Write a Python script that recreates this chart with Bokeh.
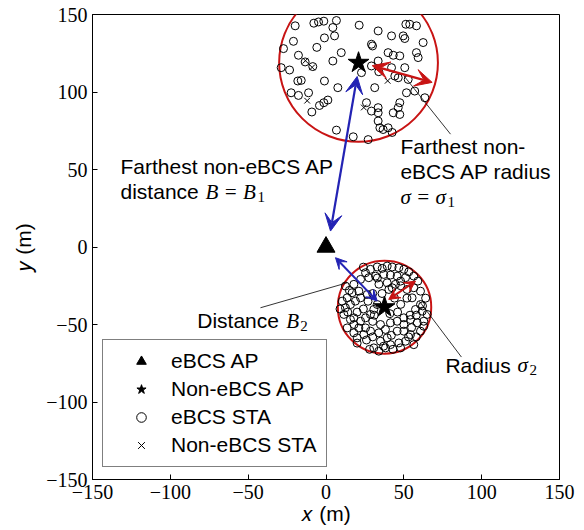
from bokeh.plotting import figure
from bokeh.models import (Range1d, Legend, LegendItem, Arrow, VeeHead, CustomJSTickFormatter)
from bokeh.core.properties import value
from bokeh.embed import file_html
from bokeh.resources import INLINE

# ---------------- data ----------------
TICKS = [-150, -100, -50, 0, 50, 100, 150]

ebcs_ap_x = [0.0]
ebcs_ap_y = [0.0]

non_ap_x = [20.9, 37.6]
non_ap_y = [118.9, -38.8]
non_ap_radius = [51.0, 30.0]

sta_c1_x = [-19.8, -7.8, -4.8, -1.4, 6.7, 4.4, 5.5, -1.0, -20.9, -27.3, -5.9, 9.8, -17.7, -13.4,
            4.4, -28.8, -23.4, -8.5, -18.1, -15.9, -1.0, 7.6, -22.4, -17.7, -11.2, -9.1, -4.2,
            -1.4, 1.2, 6.7, 17.5,
            21.3, 33.5, 42.1, 49.6, 50.6, 51.3, 53.8, 58.1, 62.4, 29.2, 29.9, 39.9, 43.2, 47.4,
            58.1, 59.2, 33.5, 22.8, 29.2, 42.1, 44.2, 50.6, 46.4, 52.8, 57.0, 51.7, 63.5, 31.3,
            26.0, 29.2, 33.5, 33.5, 47.4, 46.4, 43.2, 47.4, 33.5, 34.6, 36.7, 39.9, 27.1, 33.9,
            42.5]
sta_c1_y = [142.7, 144.4, 145.2, 145.7, 146.1, 141.6, 136.2, 134.9, 132.7, 128.0, 128.8, 125.4,
            123.7, 119.4, 120.0, 115.7, 114.2, 116.4, 107.1, 107.5, 107.1, 102.8, 99.5, 97.8,
            99.5, 87.1, 91.3, 93.1, 94.8, 75.4, 71.1,
            143.1, 139.4, 136.2, 136.2, 134.5, 143.7, 143.7, 142.7, 131.9, 130.8, 129.7, 125.4,
            123.7, 123.3, 125.4, 122.2, 120.0, 112.5, 116.8, 115.7, 110.3, 115.7, 109.2, 108.1,
            100.6, 99.5, 96.3, 102.8, 93.1, 87.7, 89.9, 86.6, 93.1, 89.9, 86.6, 85.5, 81.3,
            76.9, 75.8, 76.9, 69.3, 113.1, 73.9]

sta_c2_x = [25.4, 28.6, 32.9, 36.1, 39.3, 42.5, 46.8, 50.0, 53.2, 56.4, 22.2, 27.5, 31.8, 37.1,
            41.4, 45.7, 51.1, 47.9, 12.5, 17.9, 21.1, 16.8, 13.6, 10.4, 12.5, 15.7, 18.9, 22.2,
            26.5, 39.3, 42.5, 40.4, 44.6, 52.1, 56.4, 60.7, 60.7, 57.5, 61.8, 65.0, 55.3, 32.9,
            30.7, 28.6, 25.4, 22.2, 17.9, 15.7, 11.5, 21.1, 25.4, 28.6, 24.3, 33.9, 38.2, 41.4,
            45.7, 50.0, 54.3, 58.6, 62.8, 60.7, 54.3, 50.0, 45.7, 39.3, 35.0, 30.7, 33.9, 38.2,
            41.4, 46.8, 51.1, 47.9, 56.4, 62.8, 17.9, 13.6, 20.0,
            24.0, 20.0, 27.0, 30.0, 34.0, 36.0, 44.0, 48.0, 52.0, 46.0, 50.0, 55.0, 42.0, 35.0,
            30.0, 26.0, 30.0, 37.0, 43.0, 53.0, 58.0, 62.0, 64.0, 59.0, 15.0, 18.0, 14.0, 9.0,
            24.0, 33.0, 48.0, 54.0, 58.0, 41.0, 31.0, 28.0, 20.0]
sta_c2_y = [-16.6, -14.4, -12.9, -13.8, -12.3, -12.9, -13.4, -14.4, -16.0, -18.8, -20.9, -19.8,
            -18.8, -17.7, -18.1, -18.8, -19.8, -22.0, -25.2, -24.1, -28.5, -29.5, -32.8, -34.9,
            -39.2, -37.1, -34.9, -32.8, -30.6, -23.1, -26.3, -27.4, -24.1, -27.4, -26.3, -28.5,
            -37.1, -40.3, -41.4, -43.5, -32.8, -37.1, -40.3, -43.5, -45.7, -47.9, -45.7, -46.8,
            -43.5, -52.2, -52.2, -54.3, -56.5, -55.4, -53.2, -48.9, -47.9, -45.7, -46.8, -48.9,
            -47.9, -54.3, -56.5, -54.3, -54.3, -58.6, -60.8, -65.1, -67.2, -65.1, -63.0, -61.9,
            -60.8, -65.1, -63.0, -51.1, -55.4, -52.2, -58.6,
            -40.0, -42.0, -35.0, -30.0, -24.0, -30.0, -33.0, -37.0, -33.0, -42.0, -50.0, -52.0,
            -57.0, -50.0, -48.0, -60.0, -58.0, -64.0, -66.0, -58.0, -58.0, -38.0, -33.0, -22.0,
            -28.0, -50.0, -42.0, -40.0, -13.0, -20.0, -25.0, -44.0, -44.0, -43.0, -44.0, -66.0,
            -62.0]

non_sta_x = [-13.2, -8.9, -12.1, 24.3, 39.6]
non_sta_y = [120.2, 115.9, 94.4, 90.0, 107.2]

# ---------------- figure ----------------
p = figure(width=576, height=527, x_range=Range1d(-150, 150), y_range=Range1d(-150, 150),
           output_backend="svg", toolbar_location=None,
           min_border_left=92, min_border_right=17, min_border_top=14, min_border_bottom=40)
p.grid.visible = False
p.outline_line_color = "black"
p.outline_line_width = 1
p.background_fill_color = "white"

fmt = CustomJSTickFormatter(code="return tick < 0 ? '\\u2212' + Math.abs(tick) : String(tick);")
for ax in (p.xaxis[0], p.yaxis[0]):
    ax.ticker = TICKS
    ax.formatter = fmt
    ax.major_tick_in = 5
    ax.major_tick_out = 0
    ax.minor_tick_in = 0
    ax.minor_tick_out = 0
    ax.axis_line_color = "black"
    ax.major_tick_line_color = "black"
    ax.major_label_text_font = "Liberation Serif"
    ax.major_label_text_font_size = "20px"
    ax.major_label_text_color = "black"
    ax.major_label_standoff = 5
    ax.axis_label_text_font = "Liberation Sans"
    ax.axis_label_text_font_style = "normal"
    ax.axis_label_text_font_size = "21px"
    ax.axis_label_text_color = "black"
    ax.axis_label_standoff = 0

p.xaxis.axis_label = "\U0001D465 (m)"
p.yaxis.axis_label = "\U0001D466 (m)"
p.yaxis.axis_label_standoff = 8

RED = "#c81414"
BLUE = "#2323b4"

p.ellipse(x=non_ap_x, y=non_ap_y, width=[2 * r for r in non_ap_radius],
          height=[2 * r for r in non_ap_radius], fill_color=None, line_color=RED, line_width=2)

sta_x = sta_c1_x + sta_c2_x
sta_y = sta_c1_y + sta_c2_y
r_sta = p.scatter(sta_x, sta_y, marker="circle", size=8, fill_color=None,
                  line_color="black", line_width=1)
r_non_sta = p.scatter(non_sta_x, non_sta_y, marker="x", size=8, line_color="black", line_width=1)

# annotation leader lines
p.segment(x0=[50.0, -42.1, 60.0], y0=[110.5, -39.2, -35.0],
          x1=[80.0, 13.6, 87.0], y1=[72.8, -23.1, -71.0], line_color="black", line_width=0.8)

# arrows
arrows = [
    (2.9, 10.3, 20.0, 110.0, BLUE, 2.2, 17),
    (6.1, -6.9, 32.9, -34.9, BLUE, 2.0, 11),
    (29.7, 117.0, 68.2, 106.2, RED, 2.4, 17),
    (40.3, -33.8, 57.5, -22.0, RED, 2.0, 11),
]
for x0, y0, x1, y1, col, lw, hs in arrows:
    p.add_layout(Arrow(x_start=x0, y_start=y0, x_end=x1, y_end=y1, line_color=col, line_width=lw,
                       start=VeeHead(size=hs, fill_color=col, line_color=col, line_width=1),
                       end=VeeHead(size=hs, fill_color=col, line_color=col, line_width=1)))

r_ap = p.scatter(ebcs_ap_x, ebcs_ap_y, marker="triangle", size=18, fill_color="black",
                 line_color="black")
r_non_ap = p.scatter(non_ap_x, non_ap_y, marker="star", size=22, fill_color="black",
                     line_color="black")

SANS = value("Liberation Sans")
SERIF = value("Liberation Serif")


def txt(x, y, s, font=SANS, style="normal", size="21px", dx=0, dy=0):
    p.text(x=[x], y=[y], text=[s], text_font=font, text_font_style=style, text_font_size=size,
           text_color="black", text_baseline="alphabetic", text_align="left",
           x_offset=dx, y_offset=dy)


# left block
txt(-132, 51.7, "Farthest non-eBCS AP")
txt(-132, 35.5, "distance")
txt(-132, 35.5, "B = B", font=SERIF, style="italic", dx=85)
txt(-132, 35.5, "1", font=SERIF, size="15px", dx=137, dy=5)
# right block
txt(47.8, 64.6, "Farthest non-")
txt(47.8, 48.5, "eBCS AP radius")
txt(47.8, 32.3, "\u03c3 = \u03c3", font=SERIF, style="italic")
txt(47.8, 32.3, "1", font=SERIF, size="15px", dx=47, dy=5)
# distance B2
txt(-82.7, -47.7, "Distance")
txt(-82.7, -47.7, "B", font=SERIF, style="italic", dx=89)
txt(-82.7, -47.7, "2", font=SERIF, size="15px", dx=103, dy=5)
# radius sigma2
txt(76.7, -76.4, "Radius")
txt(76.7, -76.4, "\u03c3", font=SERIF, style="italic", dx=72)
txt(76.7, -76.4, "2", font=SERIF, size="15px", dx=84, dy=5)

legend = Legend(items=[LegendItem(label="eBCS AP", renderers=[r_ap]),
                       LegendItem(label="Non-eBCS AP", renderers=[r_non_ap]),
                       LegendItem(label="eBCS STA", renderers=[r_sta]),
                       LegendItem(label="Non-eBCS STA", renderers=[r_non_sta])],
                location=(10, 12), border_line_color="black", border_line_width=1,
                background_fill_color="white", background_fill_alpha=1,
                padding=9, margin=0, spacing=4, glyph_width=58, glyph_height=24,
                label_height=24, label_standoff=1, label_text_font="Liberation Sans",
                label_text_font_size="21px", label_text_color="black")
p.add_layout(legend)

open("out.html", "w").write(file_html(p, INLINE))
